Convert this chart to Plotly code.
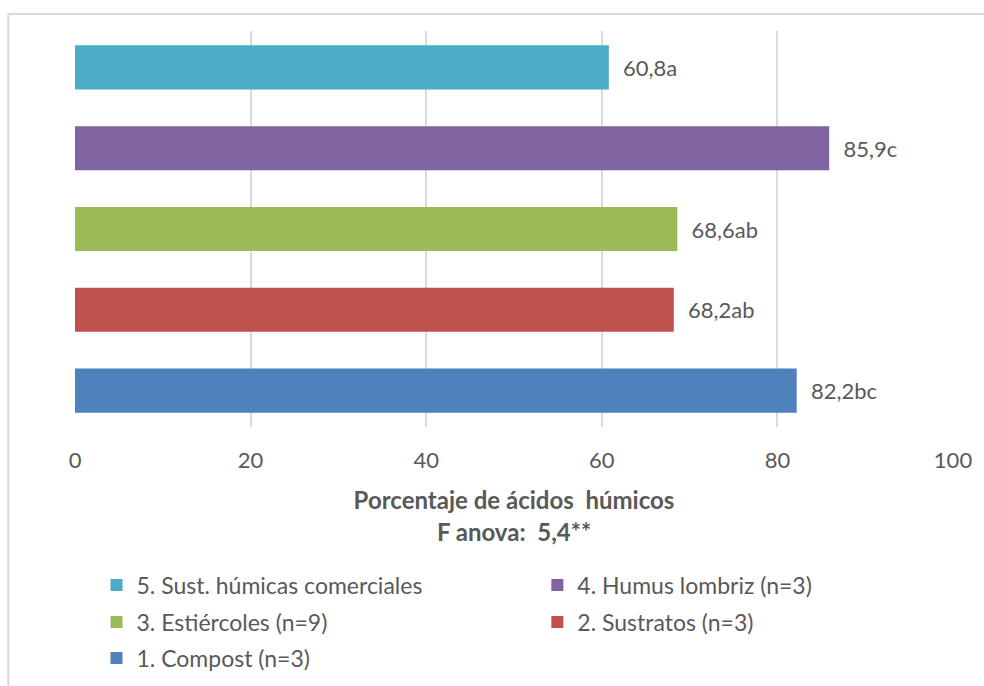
import plotly.graph_objects as go

series = ['5. Sust. húmicas comerciales', '4. Humus lombriz (n=3)', '3. Estiércoles (n=9)',
          '2. Sustratos (n=3)', '1. Compost (n=3)']
values = [60.8, 85.9, 68.6, 68.2, 82.2]
labels = ['60,8a', '85,9c', '68,6ab', '68,2ab', '82,2bc']
colors = ['#4BACC6', '#8064A2', '#9BBB59', '#C0504D', '#4F81BD']

grey = '#595959'
font = 'Lato'

# legend slots (two columns, three rows, like the original)
legend_ids = ['legend', 'legend2', 'legend3', 'legend4', 'legend5']
leg_x = [0.0245, 0.5266, 0.0245, 0.5266, 0.0245]
leg_py = [585, 585, 622, 622, 658]

fig = go.Figure()
for name, v, lab, c, lg in zip(series, values, labels, colors, legend_ids):
    fig.add_bar(
        y=[name], x=[v], orientation='h', name=name,
        marker=dict(color=c, line=dict(width=0)),
        width=0.545,
        text=[lab], texttemplate='\u00a0\u00a0%{text}', textposition='outside', cliponaxis=False,
        textfont=dict(size=22, color=grey, family=font),
        legend=lg,
    )

legends = {}
for lg, x, py in zip(legend_ids, leg_x, leg_py):
    legends[lg] = dict(orientation='h', xanchor='left', x=x, yanchor='middle',
                       yref='container', y=1 - py / 686,
                       font=dict(size=23, color=grey, family=font),
                       itemwidth=30, bgcolor='rgba(0,0,0,0)')

fig.update_layout(
    width=984, height=686,
    margin=dict(l=75, r=26, t=31, b=259),
    plot_bgcolor='white', paper_bgcolor='white',
    font=dict(family=font, color=grey),
    barmode='overlay',
    showlegend=True,
    **legends,
    xaxis=dict(
        range=[0, 100], dtick=20, showgrid=True, gridcolor='#d9d9d9', gridwidth=1.5,
        zeroline=False, showline=False, ticks='', ticklabelstandoff=18,
        tickfont=dict(size=22, color=grey, family=font),
        title=dict(text='<b>Porcentaje de ácidos  húmicos<br>F anova:  5,4**</b>',
                   font=dict(size=24, color=grey, family=font), standoff=20),
    ),
    yaxis=dict(
        categoryorder='array', categoryarray=series[::-1],
        range=[-0.45, 4.45], showticklabels=False, showgrid=False,
        zeroline=False, showline=False, ticks='',
    ),
    shapes=[dict(type='rect', xref='paper', yref='paper',
                 x0=(8 - 75) / 883, x1=(995 - 75) / 883,
                 y0=(427 - 700) / 396, y1=(427 - 14) / 396,
                 line=dict(color='#d9d9d9', width=2), layer='below')],
)

fig.write_html('out.html', config={'displayModeBar': False},
               post_script="document.body.style.margin='0';")
